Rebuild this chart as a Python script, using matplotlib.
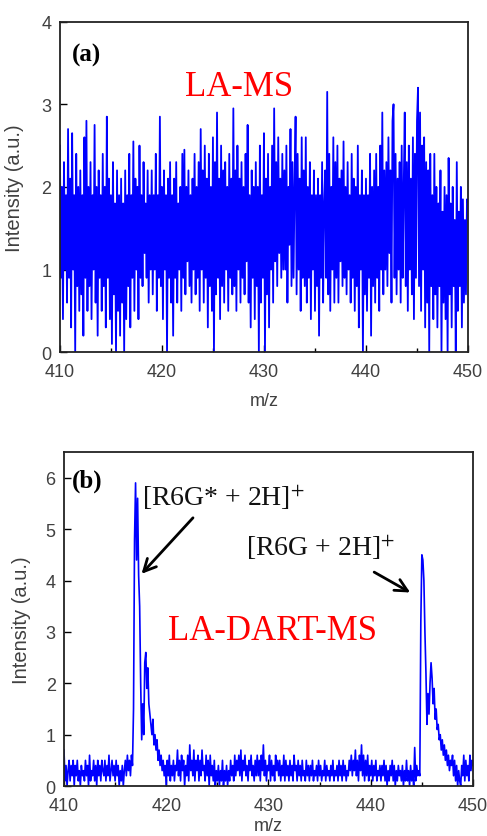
import numpy as np
import matplotlib
matplotlib.use("Agg")
import matplotlib.pyplot as plt

plt.rcParams['mathtext.fontset'] = 'stix'

# m/z range and tick labels
mz_start, mz_end = 410, 450
x_ticks = [410, 420, 430, 440, 450]

# (a) LA-MS, intensity read every 0.1 m/z (410.0 ... 450.0)
la_ms = [
    2.5, 0.9, 2.0, 0.4, 2.3, 1.0, 1.9, 0.6, 2.7, 0.9,
    2.1, 0.3, 2.65, 1.0, 1.9, 0.0, 2.4, 0.8, 2.0, 0.5,
    2.2, 0.7, 1.9, 0.2, 2.6, 0.9, 2.8, 0.5, 2.0, 0.8,
    2.3, 0.4, 1.9, 1.0, 2.75, 0.6, 2.0, 0.2, 2.2, 0.9,
    1.9, 0.5, 2.4, 0.8, 2.0, 0.3, 2.85, 0.9, 2.1, 0.4,
    1.9, 0.1, 2.3, 0.7, 1.8, 0.0, 2.2, 0.5, 1.9, 0.2,
    2.1, 0.6, 1.8, 0.0, 2.2, 0.4, 1.9, 0.8, 2.4, 0.3,
    1.9, 0.9, 2.55, 0.5, 2.1, 1.0, 2.0, 0.4, 2.5, 0.9,
    1.9, 0.8, 2.3, 1.2, 1.8, 0.9, 2.2, 0.6, 1.9, 1.0,
    2.2, 0.7, 1.9, 1.0, 2.4, 0.5, 1.9, 0.9, 2.85, 0.8,
    2.0, 0.4, 2.2, 1.0, 1.9, 0.0, 2.1, 0.9, 2.3, 0.6,
    1.9, 0.2, 2.1, 0.9, 2.3, 0.6, 1.8, 1.0, 2.0, 0.5,
    2.4, 0.9, 2.45, 0.7, 2.0, 1.1, 2.2, 0.8, 1.9, 0.6,
    2.1, 1.0, 2.4, 0.7, 2.0, 0.9, 2.3, 0.5, 2.7, 1.0,
    2.2, 0.6, 2.5, 0.9, 2.1, 0.3, 2.4, 0.8, 2.0, 0.5,
    2.6, 0.0, 2.3, 0.7, 2.9, 0.9, 2.1, 0.4, 2.5, 0.8,
    2.2, 0.6, 2.3, 1.0, 2.0, 0.5, 2.4, 0.9, 2.1, 0.7,
    2.95, 0.8, 2.2, 0.5, 2.5, 1.0, 2.1, 0.6, 2.3, 0.9,
    2.0, 0.7, 2.4, 1.1, 2.75, 0.6, 1.9, 0.3, 2.2, 0.9,
    2.0, 0.4, 2.3, 0.8, 2.0, 0.0, 2.5, 0.6, 1.9, 0.9,
    2.65, 0.0, 2.1, 0.7, 2.4, 0.3, 2.0, 1.0, 2.5, 0.6,
    2.95, 1.1, 2.3, 0.8, 2.6, 1.2, 2.1, 0.9, 2.4, 1.0,
    2.2, 1.0, 2.5, 0.6, 2.0, 1.3, 2.7, 0.8, 2.3, 0.9,
    2.0, 2.85, 0.7, 2.4, 1.0, 2.1, 0.5, 2.6, 0.9, 2.2,
    0.8, 2.6, 0.6, 2.0, 0.9, 2.3, 0.4, 1.9, 1.0, 2.2,
    0.5, 1.9, 0.8, 2.1, 0.2, 1.9, 0.9, 2.3, 0.6, 1.8,
    2.2, 0.9, 3.15, 0.7, 2.4, 0.5, 2.0, 1.0, 2.6, 0.6,
    2.3, 0.9, 2.5, 0.6, 2.1, 1.1, 2.2, 0.8, 2.55, 0.9,
    2.0, 0.7, 2.3, 1.0, 1.9, 0.6, 2.4, 0.9, 2.1, 0.5,
    2.0, 0.8, 2.5, 0.3, 1.9, 1.0, 2.2, 0.0, 1.9, 0.7,
    2.1, 0.5, 1.9, 0.9, 2.4, 0.2, 2.0, 0.8, 2.2, 0.6,
    2.4, 0.9, 2.0, 0.5, 2.5, 1.0, 2.9, 0.7, 2.2, 1.0,
    2.3, 0.8, 2.6, 1.2, 2.2, 0.6, 2.8, 3.0, 0.9, 2.4,
    0.7, 2.1, 1.0, 2.3, 0.6, 2.5, 0.9, 2.0, 2.9, 0.8,
    2.3, 0.5, 2.5, 1.0, 2.1, 0.7, 2.6, 0.4, 2.4, 0.9,
    2.8, 3.2, 0.8, 2.9, 0.5, 2.5, 1.0, 2.6, 0.3, 2.3,
    0.6, 2.2, 0.0, 2.4, 0.8, 1.9, 0.4, 2.4, 0.7, 2.0,
    0.3, 1.8, 0.8, 2.2, 0.0, 1.7, 0.6, 2.0, 0.4, 1.9,
    0.0, 2.35, 0.7, 1.8, 0.3, 2.0, 0.8, 1.6, 0.0, 2.3,
    0.5, 1.7, 0.8, 2.0, 0.3, 1.85, 0.6, 1.6, 0.7, 1.85,
    1.8,
]

# (b) LA-DART-MS, intensity read every 0.1 m/z (410.0 ... 450.0)
la_dart_ms = [
    0.7, 0.1, 0.4, 0.0, 0.3, 0.5, 0.1, 0.4, 0.2, 0.5,
    0.0, 0.4, 0.2, 0.5, 0.1, 0.3, 0.0, 0.4, 0.2, 0.3,
    0.1, 0.5, 0.2, 0.4, 0.0, 0.6, 0.1, 0.3, 0.2, 0.5,
    0.1, 0.4, 0.0, 0.5, 0.2, 0.4, 0.1, 0.5, 0.3, 0.2,
    0.5, 0.1, 0.4, 0.2, 0.6, 0.1, 0.3, 0.5, 0.2, 0.4,
    0.1, 0.5, 0.2, 0.4, 0.0, 0.3, 0.1, 0.4, 0.0, 0.3,
    0.5, 0.2, 0.6, 0.3, 0.5, 0.2, 0.6, 0.4, 1.5, 4.8,
    5.9, 4.4, 5.6, 4.1, 3.5, 2.0, 0.9, 1.6, 1.0, 2.4,
    2.6, 1.9, 2.3, 1.6, 1.4, 1.2, 1.0, 1.3, 0.8, 1.0,
    0.7, 0.9, 0.5, 0.7, 0.4, 0.6, 0.3, 0.5, 0.2, 0.4,
    0.0, 0.5, 0.2, 0.6, 0.1, 0.4, 0.2, 0.5, 0.1, 0.4,
    0.3, 0.7, 0.2, 0.5, 0.1, 0.6, 0.3, 0.5, 0.0, 0.4,
    0.2, 0.6, 0.1, 0.8, 0.3, 0.5, 0.2, 0.7, 0.1, 0.5,
    0.3, 0.6, 0.1, 0.5, 0.2, 0.7, 0.3, 0.4, 0.1, 0.6,
    0.2, 0.5, 0.0, 0.6, 0.2, 0.4, 0.1, 0.5, 0.0, 0.3,
    0.1, 0.4, 0.0, 0.3, 0.1, 0.5, 0.0, 0.3, 0.1, 0.4,
    0.0, 0.3, 0.1, 0.5, 0.2, 0.4, 0.1, 0.6, 0.2, 0.5,
    0.3, 0.6, 0.2, 0.7, 0.1, 0.5, 0.3, 0.6, 0.2, 0.4,
    0.1, 0.5, 0.3, 0.6, 0.2, 0.4, 0.1, 0.5, 0.2, 0.6,
    0.2, 0.5, 0.1, 0.6, 0.3, 0.8, 0.2, 0.5, 0.1, 0.4,
    0.3, 0.6, 0.1, 0.5, 0.2, 0.4, 0.1, 0.6, 0.3, 0.5,
    0.2, 0.5, 0.1, 0.4, 0.2, 0.6, 0.1, 0.5, 0.2, 0.4,
    0.1, 0.5, 0.2, 0.4, 0.1, 0.6, 0.3, 0.4, 0.1, 0.5,
    0.2, 0.4, 0.1, 0.5, 0.2, 0.3, 0.1, 0.5, 0.2, 0.4,
    0.1, 0.4, 0.2, 0.5, 0.1, 0.3, 0.2, 0.4, 0.1, 0.5,
    0.2, 0.4, 0.1, 0.3, 0.2, 0.5, 0.1, 0.4, 0.2, 0.3,
    0.1, 0.4, 0.2, 0.5, 0.1, 0.3, 0.2, 0.4, 0.1, 0.5,
    0.2, 0.4, 0.1, 0.5, 0.2, 0.4, 0.1, 0.3, 0.2, 0.5,
    0.3, 0.6, 0.2, 0.5, 0.3, 0.7, 0.2, 0.5, 0.1, 0.6,
    0.3, 0.8, 0.2, 0.6, 0.1, 0.5, 0.2, 0.6, 0.1, 0.4,
    0.2, 0.5, 0.1, 0.4, 0.2, 0.5, 0.1, 0.3, 0.2, 0.4,
    0.1, 0.4, 0.2, 0.5, 0.1, 0.4, 0.0, 0.3, 0.1, 0.4,
    0.2, 0.5, 0.1, 0.4, 0.0, 0.3, 0.1, 0.4, 0.2, 0.3,
    0.1, 0.4, 0.0, 0.3, 0.1, 0.5, 0.1, 0.3, 0.0, 0.4,
    0.1, 0.3, 0.0, 0.75, 0.1, 0.4, 0.2, 0.3, 0.2, 3.2,
    4.5, 4.4, 4.0, 3.0, 2.2, 1.2, 1.8, 1.4, 2.0, 2.4,
    2.1, 1.6, 1.9, 1.3, 1.5, 1.1, 1.2, 0.9, 1.0, 0.7,
    0.9, 0.6, 0.8, 0.5, 0.7, 0.4, 0.6, 0.3, 0.5, 0.4,
    0.6, 0.2, 0.5, 0.1, 0.4, 0.0, 0.3, 0.1, 0.0, 0.4,
    0.2, 0.6, 0.1, 0.5, 0.2, 0.4, 0.1, 0.6, 0.3, 0.5,
    0.4,
]

serif = 'Liberation Serif'
sans = 'Liberation Sans'
grey = '#404040'


def style_axes(ax, ymax, yticks):
    ax.set_xlim(mz_start, mz_end)
    ax.set_ylim(0, ymax)
    ax.set_xticks(x_ticks)
    ax.set_xticks(range(415, 450, 10), minor=True)
    ax.set_yticks(yticks)
    ax.tick_params(which='both', direction='in', top=False, right=False,
                   labelsize=13, labelcolor=grey, width=1.0)
    ax.tick_params(which='major', length=5)
    ax.tick_params(which='minor', length=3)
    ax.tick_params(axis='x', pad=8)
    ax.tick_params(axis='y', pad=6)
    for lab in ax.get_xticklabels() + ax.get_yticklabels():
        lab.set_fontfamily(sans)
    for sp in ax.spines.values():
        sp.set_linewidth(1.3)
        sp.set_color('#222222')
    ax.set_xlabel('m/z', fontsize=13, color=grey, family=sans)
    ax.set_ylabel('Intensity (a.u.)', fontsize=14.5, color=grey, family=sans)


fig = plt.figure(figsize=(4.87, 8.37), dpi=100)

# panel (a)
ax1 = fig.add_axes([0.123, 0.578, 0.838, 0.395])
x1 = np.linspace(mz_start, mz_end, len(la_ms))
ax1.plot(x1, la_ms, color='#0000ff', lw=1.3)
style_axes(ax1, 4, [0, 1, 2, 3, 4])
ax1.yaxis.set_label_coords(-0.088, 0.5)
ax1.xaxis.set_label_coords(0.5, -0.12)
ax1.text(411.2, 3.6, '(a)', fontsize=18, fontweight='bold', family=serif,
         va='center', ha='left')
ax1.text(427.6, 3.21, 'LA-MS', fontsize=25, color='#ff0000', family=serif,
         va='center', ha='center')

# panel (b)
ax2 = fig.add_axes([0.1314, 0.0597, 0.8398, 0.399])
x2 = np.linspace(mz_start, mz_end, len(la_dart_ms))
ax2.plot(x2, la_dart_ms, color='#0000ff', lw=1.2)
style_axes(ax2, 6.5, [0, 1, 2, 3, 4, 5, 6])
ax2.yaxis.set_label_coords(-0.081, 0.5)
ax2.xaxis.set_label_coords(0.5, -0.094)
ax2.text(410.8, 5.96, '(b)', fontsize=18, fontweight='bold', family=serif,
         va='center', ha='left')
ax2.text(430.4, 3.02, 'LA-DART-MS', fontsize=25, color='#ff0000', family=serif,
         va='center', ha='center')
ax2.text(425.6, 5.63, r'[R6G* + 2H]$^{+}$', fontsize=20, family=serif,
         va='center', ha='center', color='#111111')
ax2.text(435.1, 4.66, r'[R6G + 2H]$^{+}$', fontsize=20, family=serif,
         va='center', ha='center', color='#111111')
arrow = dict(arrowstyle='->', color='black', lw=2, mutation_scale=22)
ax2.annotate('', xy=(417.4, 4.09), xytext=(422.8, 5.26), arrowprops=arrow)
ax2.annotate('', xy=(444.1, 3.74), xytext=(440.1, 4.19), arrowprops=arrow)

fig.savefig('out.png', dpi=100)
